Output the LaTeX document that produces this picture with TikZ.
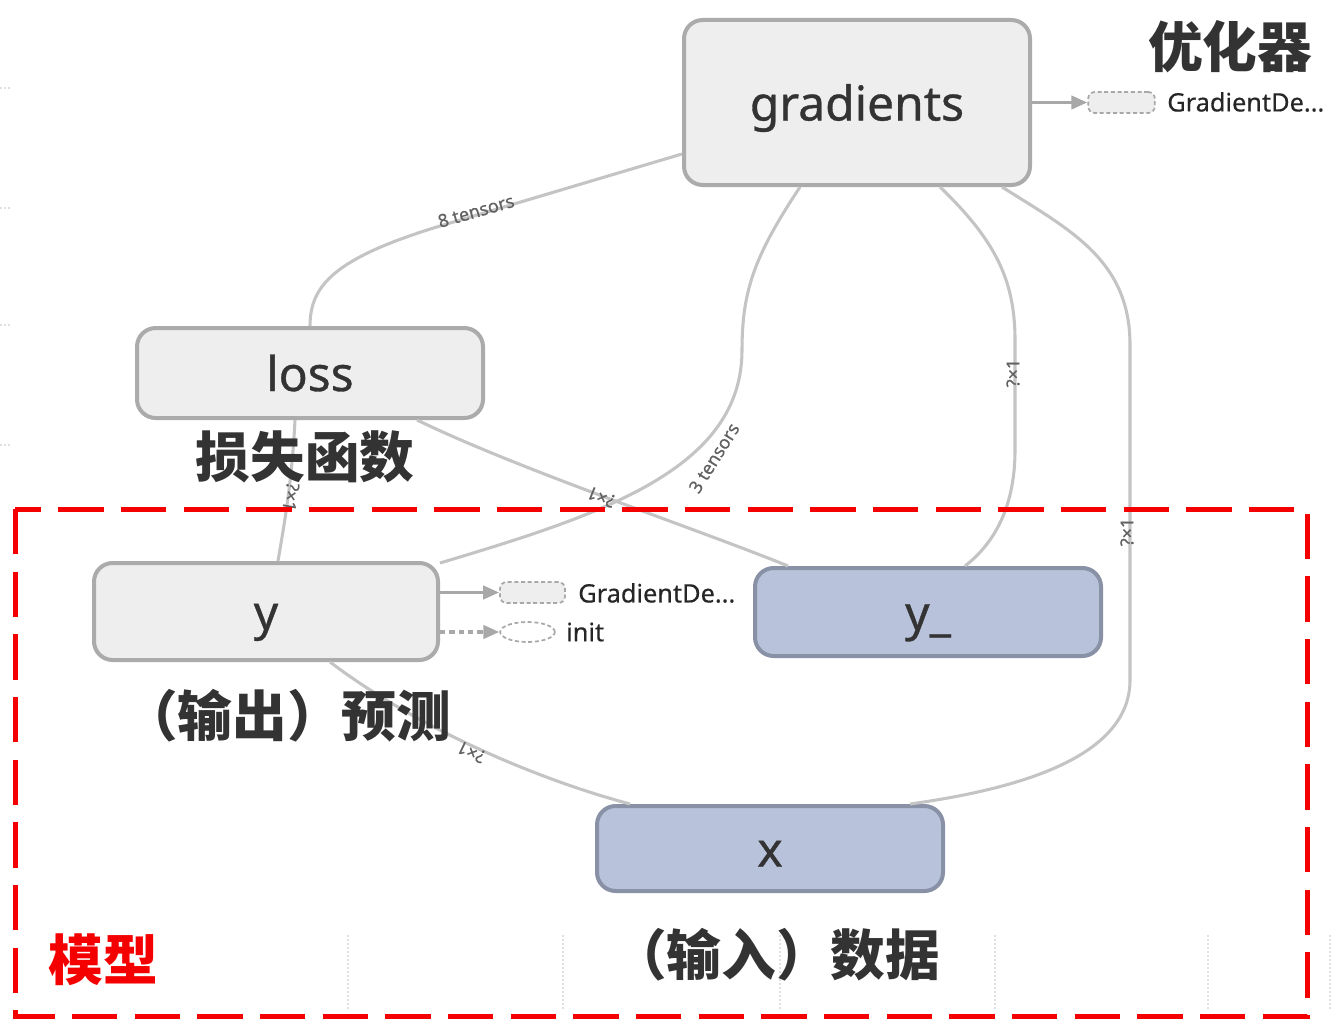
\documentclass[tikz,border=0pt]{standalone}
\usepackage{fontspec}
\setmainfont{Noto Sans}
\newfontfamily\nodefont{Noto Sans}[FakeBold=0.7]
\newfontfamily\smallfont{Noto Sans}[FakeBold=0.4]
\newfontfamily\cjk{Noto Sans CJK SC}
\usetikzlibrary{arrows.meta,calc,shapes.geometric}
\definecolor{txt}{HTML}{333333}
\definecolor{edgec}{HTML}{C4C4C4}
\definecolor{nodefill}{HTML}{EEEEEE}
\definecolor{nodeline}{HTML}{ABABAB}
\definecolor{bluefill}{HTML}{B8C3DB}
\definecolor{blueline}{HTML}{8891A6}
\definecolor{arrc}{HTML}{A8A8A8}
\definecolor{redline}{HTML}{F50000}
\tikzset{
  opbox/.style={draw=nodeline, fill=nodefill, line width=3pt, rounded corners=14pt,
    font=\nodefont\fontsize{36}{40}\selectfont, text=txt, inner sep=0pt,
    text height=31pt, text depth=4pt},
  databox/.style={opbox, draw=blueline, fill=bluefill},
  edge/.style={draw=edgec, line width=2.3pt},
  elabel/.style={font=\smallfont\fontsize{13.5}{14}\selectfont, text=black!62, inner sep=0.5pt},
  cjklabel/.style={font=\cjk\bfseries\fontsize{41}{44}\selectfont, text=txt, inner sep=0pt},
  smallarrow/.style={draw=arrc, line width=2.4pt, -{Triangle[length=12pt,width=10pt]}},
  ghost/.style={draw=arrc, dashed, dash pattern=on 3pt off 2pt, line width=1.3pt},
  sidetext/.style={font=\smallfont\fontsize{19}{22}\selectfont, text=black!85, inner sep=0pt, anchor=west},
  faint/.style={draw=black!12, line width=1pt, dash pattern=on 1.5pt off 1.5pt}
}
\begin{document}
\begin{tikzpicture}[x=0.75pt,y=-0.75pt]
\useasboundingbox (0,0) rectangle (1333,1020);
\fill[white] (0,0) rectangle (1333,1020);

% faint background marks
\foreach \yy in {88,208,325,445} \draw[faint] (0,\yy) -- (12,\yy);
\foreach \xx in {348,563,780,995,1208,1330} \draw[faint] (\xx,935) -- (\xx,1010);

% nodes
\node[opbox, minimum width=259.5pt, minimum height=123.75pt] (gradients) at (857,102.5) {gradients};
\node[opbox, minimum width=259.5pt, minimum height=67.5pt] (loss) at (310,373) {loss};
\node[opbox, minimum width=258pt, minimum height=72.75pt] (y) at (266,611.5) {y};
\node[databox, minimum width=259.5pt, minimum height=66pt] (yy) at (928,612) {y\_};
\node[databox, minimum width=259.5pt, minimum height=63.75pt] (x) at (770,848.5) {x};

% edges
\draw[edge] ($(gradients.south west)+(0,-33)$) -- (440,226)
   .. controls (335,258) and (310,285) .. (loss.north);
\node[elabel, rotate=16] (l8) at (476,211) {8 tensors};

\draw[edge] ($(gradients.south)+(-57,0)$) .. controls (755,255) and (742,290) .. (742,350)
   .. controls (742,470) and (600,515) .. ($(y.north east)+(0,2)$);
\node[elabel, rotate=58] (l3) at (714,458) {3 tensors};

\draw[edge] ($(gradients.south)+(83,0)$) .. controls (995,240) and (1015,280) .. (1015,340)
   -- (1015,450) .. controls (1015,510) and (992,545) .. ($(yy.north)+(37,0)$);
\node[elabel, rotate=90] (la) at (1013,373) {?×1};

\draw[edge] ($(gradients.south)+(145,0)$) .. controls (1070,230) and (1130,260) .. (1130,345)
   -- (1130,680) .. controls (1130,760) and (1010,790) .. ($(x.north)+(140,0)$);
\node[elabel, rotate=90] (lb) at (1127,532) {?×1};

\draw[edge] ($(loss.south east)+(-68,0)$) .. controls (520,470) and (700,530) .. ($(yy.north west)+(35,0)$);
\node[elabel, rotate=158] (lc) at (601,497) {?×1};

\draw[edge] ($(loss.south)+(-15,0)$) .. controls (292,480) and (285,520) .. ($(y.north)+(12,0)$);
\node[elabel, rotate=-100] (ld) at (291,497) {?×1};

\draw[edge] ($(y.south)+(64,0)$) .. controls (420,730) and (540,780) .. ($(x.north)+(-140,0)$);
\node[elabel, rotate=155] (le) at (471,752) {?×1};

% side outputs
\node[ghost, fill=nodefill, rounded corners=5pt, minimum width=50pt, minimum height=15.75pt, inner sep=0pt] (gd1) at (1121.5,102.5) {};
\node[sidetext] (gd1t) at (1167,102) {GradientDe...};
\draw[smallarrow] (gradients.east) -- (gd1.west);

\node[ghost, fill=nodefill, rounded corners=5pt, minimum width=48.75pt, minimum height=15.75pt, inner sep=0pt] (gd2) at (532.5,592.5) {};
\node[sidetext] (gd2t) at (578,593) {GradientDe...};
\draw[smallarrow] (y.east |- gd2) -- (gd2.west);

\node[ghost, ellipse, minimum width=41pt, minimum height=15pt, inner sep=0pt] (init) at (527.5,632) {};
\node[sidetext] (initt) at (566,632) {init};
\draw[smallarrow, dash pattern=on 4pt off 3pt] (y.east |- init) -- (init.west);

% CJK labels
\node[cjklabel] (opt) at (1230,47) {优化器};
\node[cjklabel] (lossl) at (305,457) {损失函数};
\node[cjklabel] (predl) at (287,716) {（输出）预测};
\node[cjklabel] (datal) at (776,955) {（输入）数据};

% model box
\draw[redline, line width=3.75pt, dash pattern=on 34pt off 13pt] (15,509) rectangle (1307,1016);
\node[cjklabel, text=redline] (model) at (103,960) {模型};
\end{tikzpicture}
\end{document}
